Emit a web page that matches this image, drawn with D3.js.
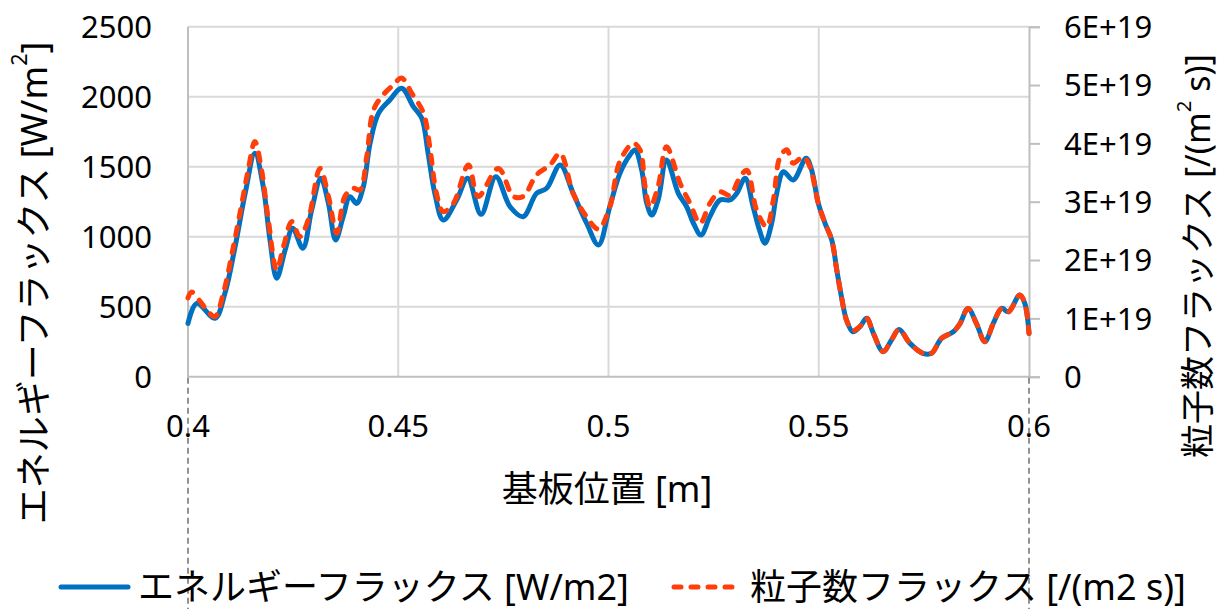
<!DOCTYPE html>
<html>
<head>
<meta charset="utf-8">
<script src="https://cdn.jsdelivr.net/npm/d3@7"></script>
<style>
  html, body { margin: 0; padding: 0; background: #fff; }
  svg { display: block; font-family: "Noto Sans", "Noto Sans CJK JP", sans-serif; }
</style>
</head>
<body>
<svg id="chart" width="1221" height="609"></svg>
<script>
// Substrate position [m] and energy flux [W/m2]
const energyPos = [0.4, 0.4021, 0.4064, 0.4088, 0.4112, 0.4136, 0.4159, 0.4179, 0.4195, 0.4211,
  0.4231, 0.4249, 0.4273, 0.4294, 0.4316, 0.4334, 0.4351, 0.4369, 0.4385, 0.4401,
  0.4417, 0.4433, 0.4453, 0.4480, 0.4508, 0.4536, 0.4556, 0.4571, 0.4587, 0.4607,
  0.4639, 0.4665, 0.4697, 0.4732, 0.4766, 0.4797, 0.4829, 0.4853, 0.4885, 0.4916,
  0.4948, 0.4976, 0.5003, 0.5027, 0.5051, 0.5063, 0.5079, 0.5091, 0.5103, 0.5118,
  0.5138, 0.5166, 0.5186, 0.5202, 0.5220, 0.5241, 0.5265, 0.5289, 0.5305, 0.5325,
  0.5344, 0.5359, 0.5372, 0.5388, 0.5400, 0.5416, 0.5439, 0.5470, 0.5483, 0.5499,
  0.5515, 0.5531, 0.5543, 0.5554, 0.5566, 0.5581, 0.5598, 0.5614, 0.5630, 0.5653,
  0.5673, 0.5691, 0.5717, 0.5748, 0.5768, 0.5792, 0.5820, 0.5836, 0.5855, 0.5875,
  0.5895, 0.5915, 0.5935, 0.5951, 0.5978, 0.5990, 0.6];
const energyFlux = [381, 524, 417, 598, 929, 1310, 1596, 1357, 976, 703,
  905, 1060, 917, 1190, 1417, 1238, 976, 1143, 1286, 1238,
  1357, 1667, 1881, 1976, 2060, 1929, 1846, 1596, 1310, 1119,
  1262, 1417, 1160, 1429, 1214, 1143, 1310, 1346, 1512, 1310,
  1096, 941, 1214, 1452, 1584, 1619, 1476, 1238, 1155, 1262,
  1548, 1310, 1214, 1096, 1012, 1143, 1262, 1262, 1310, 1417,
  1214, 1048, 953, 1096, 1310, 1464, 1405, 1560, 1476, 1238,
  1096, 976, 760, 571, 405, 321, 357, 417, 310, 179,
  262, 338, 238, 167, 167, 274, 321, 381, 488, 381,
  250, 381, 488, 464, 583, 524, 310];

// Substrate position [m] and particle flux [/(m2 s)]
const particlePos = [0.4, 0.4009, 0.4029, 0.4045, 0.4064, 0.4084, 0.4108, 0.4128, 0.4143, 0.4159,
  0.4175, 0.4191, 0.4211, 0.4227, 0.4247, 0.4266, 0.4286, 0.4314, 0.4334, 0.4354,
  0.4373, 0.4393, 0.4409, 0.4425, 0.4441, 0.4464, 0.4488, 0.4508, 0.4532, 0.4560,
  0.4575, 0.4591, 0.4607, 0.4631, 0.4667, 0.4690, 0.4738, 0.4774, 0.4797, 0.4829,
  0.4861, 0.4885, 0.4916, 0.4948, 0.4976, 0.5003, 0.5027, 0.5059, 0.5075, 0.5087,
  0.5099, 0.5118, 0.5138, 0.5170, 0.5194, 0.5218, 0.5241, 0.5265, 0.5289, 0.5309,
  0.5329, 0.5352, 0.5376, 0.5392, 0.5408, 0.5424, 0.5439, 0.5463, 0.5479, 0.5499,
  0.5515, 0.5531, 0.5543, 0.5554, 0.5566, 0.5581, 0.5598, 0.5614, 0.5630, 0.5653,
  0.5673, 0.5691, 0.5717, 0.5748, 0.5768, 0.5792, 0.5820, 0.5836, 0.5855, 0.5875,
  0.5895, 0.5915, 0.5935, 0.5951, 0.5978, 0.5990, 0.6];
const particleFlux = [1.35e19, 1.45e19, 1.29e19, 1.14e19, 1.03e19, 1.43e19, 2.23e19, 2.97e19, 3.54e19, 4.03e19,
  3.54e19, 2.69e19, 1.83e19, 2.23e19, 2.66e19, 2.40e19, 2.69e19, 3.57e19, 3.09e19, 2.46e19,
  3.09e19, 3.23e19, 3.20e19, 3.77e19, 4.57e19, 4.83e19, 5.00e19, 5.12e19, 4.86e19, 4.52e19,
  3.94e19, 3.14e19, 2.83e19, 2.97e19, 3.63e19, 3.09e19, 3.57e19, 3.09e19, 3.09e19, 3.46e19,
  3.63e19, 3.83e19, 3.14e19, 2.74e19, 2.53e19, 2.91e19, 3.69e19, 4.00e19, 3.89e19, 3.26e19,
  2.91e19, 3.26e19, 3.94e19, 3.32e19, 2.97e19, 2.63e19, 2.97e19, 3.17e19, 3.11e19, 3.37e19,
  3.54e19, 2.86e19, 2.57e19, 3.03e19, 3.77e19, 3.89e19, 3.66e19, 3.77e19, 3.60e19, 2.97e19,
  2.63e19, 2.34e19, 1.82e19, 1.37e19, 0.97e19, 0.79e19, 0.86e19, 1.00e19, 0.74e19, 0.43e19,
  0.63e19, 0.81e19, 0.57e19, 0.40e19, 0.40e19, 0.66e19, 0.77e19, 0.91e19, 1.17e19, 0.91e19,
  0.60e19, 0.91e19, 1.17e19, 1.11e19, 1.40e19, 1.26e19, 0.74e19];

const xTicks = [0.4, 0.45, 0.5, 0.55, 0.6];
const xTickLabels = ["0.4", "0.45", "0.5", "0.55", "0.6"];
const leftTicks = [0, 500, 1000, 1500, 2000, 2500];
const rightTicks = [0, 1e19, 2e19, 3e19, 4e19, 5e19, 6e19];
const rightTickLabels = ["0", "1E+19", "2E+19", "3E+19", "4E+19", "5E+19", "6E+19"];

const seriesNames = ["エネルギーフラックス [W/m2]", "粒子数フラックス [/(m2 s)]"];
const colors = ["#0070c0", "#ff3f0a"];

const svg = d3.select("#chart");
const plot = { left: 188, right: 1029, top: 26.7, bottom: 376.7 };

const x = d3.scaleLinear().domain([0.4, 0.6]).range([plot.left, plot.right]);
const yL = d3.scaleLinear().domain([0, 2500]).range([plot.bottom, plot.top]);
const yR = d3.scaleLinear().domain([0, 6e19]).range([plot.bottom, plot.top]);

svg.append("rect").attr("width", 1221).attr("height", 609).attr("fill", "#fff");

// gridlines
const grid = svg.append("g");
grid.selectAll("line.h").data(leftTicks.filter(d => d > 0)).join("line")
  .attr("x1", plot.left).attr("x2", plot.right)
  .attr("y1", d => yL(d)).attr("y2", d => yL(d))
  .attr("stroke", "#d9d9d9").attr("stroke-width", 2);
grid.selectAll("line.v").data(xTicks.slice(1, -1)).join("line")
  .attr("x1", d => x(d)).attr("x2", d => x(d))
  .attr("y1", plot.top).attr("y2", plot.bottom)
  .attr("stroke", "#d9d9d9").attr("stroke-width", 2);

// axis lines
const axisColor = "#bfbfbf";
svg.append("line").attr("x1", plot.left).attr("x2", plot.left)
  .attr("y1", plot.top).attr("y2", plot.bottom).attr("stroke", axisColor).attr("stroke-width", 2);
svg.append("line").attr("x1", plot.left - 1).attr("x2", plot.right + 1)
  .attr("y1", plot.bottom).attr("y2", plot.bottom).attr("stroke", axisColor).attr("stroke-width", 2);

// right axis with outward ticks
const rightAxis = d3.axisRight(yR).tickValues(rightTicks).tickSize(11).tickFormat(() => "");
const gR = svg.append("g").attr("transform", `translate(${plot.right},0)`).call(rightAxis);
gR.select(".domain").attr("stroke", axisColor).attr("stroke-width", 2);
gR.selectAll(".tick line").attr("stroke", axisColor).attr("stroke-width", 2);

// tick labels
const tickFont = 31;
svg.append("g").selectAll("text").data(leftTicks).join("text")
  .attr("x", 152).attr("y", d => yL(d)).attr("dy", "0.36em")
  .attr("text-anchor", "end").attr("font-size", tickFont).attr("fill", "#000")
  .text(d => d);
svg.append("g").selectAll("text").data(rightTicks).join("text")
  .attr("x", 1064).attr("y", d => yR(d)).attr("dy", "0.36em")
  .attr("text-anchor", "start").attr("font-size", tickFont).attr("fill", "#000")
  .text((d, i) => rightTickLabels[i]);
svg.append("g").selectAll("text").data(xTicks).join("text")
  .attr("x", d => x(d)).attr("y", 437)
  .attr("text-anchor", "middle").attr("font-size", tickFont).attr("fill", "#000")
  .text((d, i) => xTickLabels[i]);

// dashed drop lines at the ends of the x range
svg.append("g").selectAll("line").data([0.4, 0.6]).join("line")
  .attr("x1", d => x(d)).attr("x2", d => x(d))
  .attr("y1", plot.bottom + 1).attr("y2", 609)
  .attr("stroke", "#6f6f6f").attr("stroke-width", 1.5).attr("stroke-dasharray", "6,4");

// series
const curve = d3.curveCatmullRom.alpha(0.5);
const energyLine = d3.line().x(d => x(d[0])).y(d => yL(d[1])).curve(curve);
const particleLine = d3.line().x(d => x(d[0])).y(d => yR(d[1])).curve(curve);

svg.append("path")
  .datum(d3.zip(energyPos, energyFlux))
  .attr("d", energyLine)
  .attr("fill", "none").attr("stroke", colors[0]).attr("stroke-width", 5)
  .attr("stroke-linejoin", "round").attr("stroke-linecap", "round");

svg.append("path")
  .datum(d3.zip(particlePos, particleFlux))
  .attr("d", particleLine)
  .attr("fill", "none").attr("stroke", colors[1]).attr("stroke-width", 5)
  .attr("stroke-dasharray", "8,10").attr("stroke-linecap", "round")
  .attr("stroke-linejoin", "round");

// axis titles
const titleFont = 36;
const leftTitle = svg.append("text")
  .attr("transform", "translate(33,283) rotate(-90)")
  .attr("text-anchor", "middle").attr("dominant-baseline", "central")
  .attr("font-size", titleFont).attr("fill", "#000");
leftTitle.append("tspan").text("エネルギーフラックス [W/m");
leftTitle.append("tspan").attr("baseline-shift", "super").attr("font-size", titleFont * 0.6).text("2");
leftTitle.append("tspan").text("]");

const rightFont = 34;
const rightTitle = svg.append("text")
  .attr("transform", "translate(1197,256) rotate(-90)")
  .attr("text-anchor", "middle").attr("dominant-baseline", "central")
  .attr("font-size", rightFont).attr("fill", "#000");
rightTitle.append("tspan").text("粒子数フラックス [/(m");
rightTitle.append("tspan").attr("baseline-shift", "super").attr("font-size", rightFont * 0.6).text("2");
rightTitle.append("tspan").text(" s)]");

svg.append("text")
  .attr("x", 607).attr("y", 488)
  .attr("text-anchor", "middle").attr("dominant-baseline", "central")
  .attr("font-size", titleFont).attr("fill", "#000")
  .text("基板位置 [m]");

// legend
const legend = svg.append("g");
const legendItems = [
  { x0: 59, x1: 130, tx: 138, dash: null },
  { x0: 672, x1: 740, tx: 750, dash: "7,10" }
];
legendItems.forEach((it, i) => {
  const l = legend.append("line")
    .attr("x1", it.x0 + 2).attr("x2", it.x1 - 2).attr("y1", 587).attr("y2", 587)
    .attr("stroke", colors[i]).attr("stroke-width", 5).attr("stroke-linecap", "round");
  if (it.dash) l.attr("stroke-dasharray", it.dash);
  legend.append("text")
    .attr("x", it.tx).attr("y", 586)
    .attr("dominant-baseline", "central")
    .attr("font-size", titleFont).attr("fill", "#000")
    .text(seriesNames[i]);
});
</script>
</body>
</html>
